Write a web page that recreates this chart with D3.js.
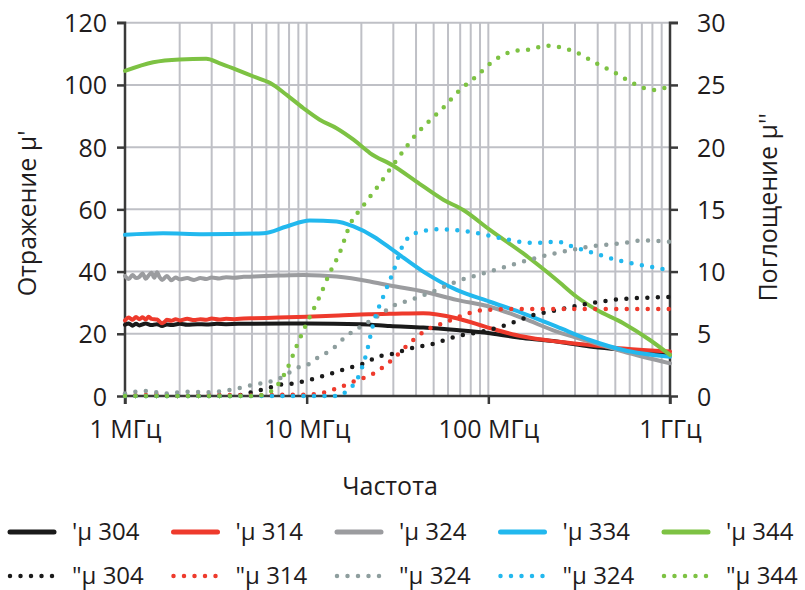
<!DOCTYPE html>
<html><head><meta charset="utf-8">
<script src="https://cdn.jsdelivr.net/npm/d3@7"></script>
<style>
html,body{margin:0;padding:0;background:#fff;}
svg text{font-family:"Open Sans","Noto Sans",sans-serif;fill:#1f1c1d;}
</style></head>
<body><svg id="chart" width="805" height="590"></svg>
<script>
// ---- data (frequency in MHz) ----
const xTickValues = [1, 10, 100, 1000];
const xTickLabels = ["1 МГц", "10 МГц", "100 МГц", "1 ГГц"];
const leftTicks = [0, 20, 40, 60, 80, 100, 120];
const rightTicks = [0, 5, 10, 15, 20, 25, 30];
const leftTitle = "Отражение  μ'";
const rightTitle = "Поглощение  μ''";
const xTitle = "Частота";

const seriesNames = ["'μ 304", "'μ 314", "'μ 324", "'μ 334", "'μ 344",
                     "\"μ 304", "\"μ 314", "\"μ 324", "\"μ 324", "\"μ 344"];
const seriesColors = ["#1a1a1a", "#ee3a2c", "#9b9c9f", "#22b8ee", "#7dc243",
                      "#1a1a1a", "#ee3a2c", "#8e9e9e", "#22b8ee", "#7dc243"];

// μ' (left axis)
const f304r = [1, 1.05, 1.1, 1.15, 1.2, 1.3, 1.4, 1.5, 1.6, 1.7, 1.8, 2.0, 2.2, 2.5, 2.8, 3.2, 3.6, 4.2, 5.1, 10, 20, 28.7, 43.8, 66.9, 102, 155, 238, 362, 553, 1000];
const v304r = [22.9, 23.3, 22.6, 23.2, 22.7, 23.3, 22.8, 23.1, 22.5, 23.0, 22.8, 23.2, 22.9, 23.1, 23.0, 23.2, 23.1, 23.2, 23.2, 23.3, 23.1, 22.5, 22.0, 21.2, 20.2, 18.6, 17.5, 15.9, 14.8, 13.2];
const f314r = [1, 1.05, 1.1, 1.15, 1.2, 1.25, 1.3, 1.35, 1.4, 1.5, 1.6, 1.65, 1.7, 1.8, 1.9, 2.0, 2.2, 2.4, 2.6, 2.8, 3.0, 3.3, 3.6, 4, 4.5, 5.1, 7, 10, 15, 22, 28.7, 43.8, 66.9, 102, 155, 238, 362, 553, 1000];
const v314r = [24.3, 25.2, 24.5, 25.4, 24.7, 25.3, 24.6, 25.5, 24.8, 24.6, 23.4, 23.8, 24.5, 24.2, 24.7, 24.3, 24.8, 24.4, 24.7, 24.5, 24.9, 24.6, 24.8, 24.7, 24.9, 25.0, 25.2, 25.5, 25.9, 26.3, 26.4, 26.6, 25.0, 21.8, 19.1, 17.5, 16.4, 15.3, 14.3];
const f324r = [1, 1.05, 1.1, 1.15, 1.2, 1.25, 1.3, 1.35, 1.4, 1.45, 1.5, 1.55, 1.6, 1.7, 1.8, 1.9, 2.0, 2.2, 2.4, 2.6, 2.8, 3.0, 3.3, 3.6, 4, 4.5, 5.1, 7, 9.6, 14.6, 22.3, 28.7, 43.8, 66.9, 102, 155, 238, 362, 553, 1000];
const v324r = [38.6, 37.6, 38.9, 37.9, 38.3, 39.4, 37.7, 38.8, 39.6, 38.0, 39.8, 38.2, 37.3, 38.6, 37.2, 38.1, 37.5, 37.9, 37.3, 37.9, 37.6, 38.1, 37.8, 38.2, 38.0, 38.3, 38.4, 38.7, 38.9, 38.4, 36.8, 35.5, 33.6, 30.9, 28.7, 25.0, 20.7, 17.5, 14.3, 10.5];
const f334r = [1, 1.62, 2.7, 5.77, 7.76, 10.4, 14.6, 18.1, 23.3, 30, 43.8, 66.9, 102, 155, 238, 362, 553, 1000];
const v334r = [51.8, 52.3, 52.0, 52.3, 54.5, 56.4, 56.1, 54.5, 51.3, 46.8, 40.0, 34.1, 30.3, 26.6, 22.3, 18.0, 14.8, 12.6];
const f344r = [1, 1.43, 2.0, 2.8, 3.3, 4.1, 5.1, 6.3, 7.76, 9.6, 11.8, 14.6, 18.1, 22.3, 30, 40, 56.5, 72.8, 102, 155, 238, 306, 394, 553, 775, 1000];
const v344r = [104.5, 107.3, 108.2, 108.4, 107.0, 104.9, 102.7, 100.6, 96.8, 92.5, 88.8, 86.1, 82.4, 78.1, 74.0, 69.0, 63.1, 59.8, 53.4, 45.9, 37.3, 31.9, 27.7, 23.4, 18.0, 13.2];

// μ'' (right axis)
const f304i = [1, 4.0, 4.67, 6.0, 7.1, 8.4, 10.4, 12.9, 16.5, 20.5, 25.2, 30, 36.9, 49.7, 66.9, 93.9, 125, 177, 238, 362, 553, 1000];
const v304i = [0, 0, 0.2, 0.6, 0.9, 1.0, 1.3, 1.7, 2.2, 2.6, 3.2, 3.4, 3.8, 4.2, 4.8, 5.2, 5.7, 6.5, 6.9, 7.45, 7.8, 7.95];
const f314i = [1, 1.2, 1.5, 2, 3, 5, 8, 9.6, 11.8, 14.6, 18.1, 23.3, 30, 35.4, 45.6, 56.5, 72.8, 93.9, 150, 300, 600, 1000];
const v314i = [0.15, 0.05, 0.15, 0.0, 0.1, 0.05, 0.1, 0.1, 0.2, 0.6, 1.15, 1.8, 3.0, 4.0, 5.3, 5.85, 6.5, 6.9, 7.0, 7.0, 7.0, 7.0];
const f324i = [1, 1.3, 1.7, 2.2, 2.8, 3.8, 5.1, 6.8, 9.2, 10.4, 11.8, 13.4, 16.5, 20.5, 25.2, 30, 36.9, 49.7, 66.9, 102, 155, 238, 362, 553, 713, 1000];
const v324i = [0.2, 0.4, 0.2, 0.35, 0.3, 0.5, 0.9, 1.3, 2.35, 2.6, 3.2, 3.6, 4.8, 5.7, 6.5, 7.25, 7.7, 8.4, 9.2, 10.0, 10.8, 11.5, 12.0, 12.3, 12.5, 12.4];
const f334i = [1, 14.6, 16.5, 19.6, 21.3, 23.3, 26.4, 30, 34.7, 42, 54, 79, 116, 177, 238, 292, 377, 553, 775, 1000];
const v334i = [0, 0, 0.35, 1.8, 3.4, 5.85, 8.0, 10.0, 12.4, 13.2, 13.4, 13.2, 12.7, 12.3, 12.4, 12.0, 11.5, 10.8, 10.4, 10.1];
const f344i = [1, 5.0, 5.77, 6.8, 7.76, 8.8, 10, 11.8, 13.4, 15.2, 17.3, 20.5, 24.8, 28.7, 33.3, 39.4, 47.3, 57.6, 69.8, 86.2, 106, 137, 177, 204, 232, 306, 385, 495, 625, 810, 1000];
const v344i = [0, 0, 0.1, 0.75, 2.1, 4.0, 5.85, 8.0, 9.9, 11.5, 13.75, 15.3, 16.9, 18.2, 19.5, 20.9, 22.1, 23.3, 24.6, 25.7, 26.9, 27.7, 27.9, 28.15, 28.1, 27.6, 26.8, 26.0, 25.15, 24.6, 24.9];

const realF = [f304r, f314r, f324r, f334r, f344r];
const realV = [v304r, v314r, v324r, v334r, v344r];
const imagF = [f304i, f314i, f324i, f334i, f344i];
const imagV = [v304i, v314i, v324i, v334i, v344i];

// ---- chart ----
const svg = d3.select("#chart");
const x = d3.scaleLog().domain([1, 1000]).range([125, 670]);
const yL = d3.scaleLinear().domain([0, 120]).range([396, 22.7]);
const yR = d3.scaleLinear().domain([0, 30]).range([396, 22.7]);

const gridColor = "#bfc0c6";
const axisColor = "#3a3a3a";

// grid
const grid = svg.append("g");
const minorTicks = x.ticks(30);
grid.selectAll("line.v").data(minorTicks.filter(d => d > 1)).join("line")
  .attr("x1", d => x(d)).attr("x2", d => x(d))
  .attr("y1", yL(0)).attr("y2", yL(120))
  .attr("stroke", gridColor).attr("stroke-width", 2);
grid.selectAll("line.h").data(leftTicks.filter(d => d > 0)).join("line")
  .attr("x1", x(1)).attr("x2", x(1000))
  .attr("y1", d => yL(d)).attr("y2", d => yL(d))
  .attr("stroke", gridColor).attr("stroke-width", 2);

// axes
const axL = d3.axisLeft(yL).tickValues(leftTicks).tickSize(8).tickPadding(10);
const axR = d3.axisRight(yR).tickValues(rightTicks).tickSize(8).tickPadding(19);
const axB = d3.axisBottom(x).tickValues(xTickValues).tickSize(8)
  .tickFormat((d, i) => xTickLabels[i]).tickPadding(16);

function styleAxis(g) {
  g.select(".domain").attr("stroke", axisColor).attr("stroke-width", 2.5);
  g.selectAll(".tick line").attr("stroke", axisColor).attr("stroke-width", 2.5);
  g.selectAll(".tick text").attr("font-size", 25).attr("fill", "#1f1c1d")
    .attr("font-family", "'Open Sans', sans-serif");
}
const gL = svg.append("g").attr("transform", `translate(${x(1)},0)`).call(axL).call(styleAxis);
const gR = svg.append("g").attr("transform", `translate(${x(1000)},0)`).call(axR).call(styleAxis);
const gB = svg.append("g").attr("transform", `translate(0,${yL(0)})`).call(axB).call(styleAxis);
gL.selectAll(".tick text").attr("dy", "0.36em");
gR.selectAll(".tick text").attr("dy", "0.36em");
gL.select(".domain").attr("d", `M-8,${yL(120)}H0V${yL(0) + 8}`);
gR.select(".domain").attr("d", `M8,${yR(30)}H0V${yR(0) + 8}`);
gB.select(".domain").attr("d", `M${x(1)},0H${x(1000)}`);

// series
const line = (yScale) => d3.line().x(d => x(d[0])).y(d => yScale(d[1])).curve(d3.curveMonotoneX);
const plot = svg.append("g");
realF.forEach((fs, i) => {
  plot.append("path").datum(fs.map((f, j) => [f, realV[i][j]]))
    .attr("d", line(yL)).attr("fill", "none")
    .attr("stroke", seriesColors[i]).attr("stroke-width", 4)
    .attr("stroke-linejoin", "round").attr("stroke-linecap", "round");
});
imagF.forEach((fs, i) => {
  plot.append("path").datum(fs.map((f, j) => [f, imagV[i][j]]))
    .attr("d", line(yR)).attr("fill", "none")
    .attr("stroke", seriesColors[i + 5]).attr("stroke-width", 4.5)
    .attr("stroke-linecap", "round").attr("stroke-dasharray", "0,10.5");
});

// titles
svg.append("text").attr("transform", `translate(36,${(yL(0) + yL(120)) / 2 + 4}) rotate(-90)`)
  .attr("text-anchor", "middle").attr("font-size", 25).text(leftTitle);
svg.append("text").attr("transform", `translate(777,${(yL(0) + yL(120)) / 2 - 2}) rotate(-90)`)
  .attr("text-anchor", "middle").attr("font-size", 25).text(rightTitle);
svg.append("text").attr("x", 390).attr("y", 495)
  .attr("text-anchor", "middle").attr("font-size", 25).text(xTitle);

// legend
const legend = svg.append("g");
seriesNames.forEach((name, i) => {
  const col = i % 5, row = Math.floor(i / 5);
  const lx = 8 + col * 163.5, ly = 532 + row * 44;
  legend.append("line").attr("x1", lx + 2).attr("x2", lx + 46).attr("y1", ly).attr("y2", ly)
    .attr("stroke", seriesColors[i]).attr("stroke-width", row === 0 ? 5 : 4.5)
    .attr("stroke-linecap", "round")
    .attr("stroke-dasharray", row === 0 ? null : "0,10.5");
  legend.append("text").attr("x", lx + 64).attr("y", ly + 8)
    .attr("font-size", 24).text(name);
});
</script></body></html>
